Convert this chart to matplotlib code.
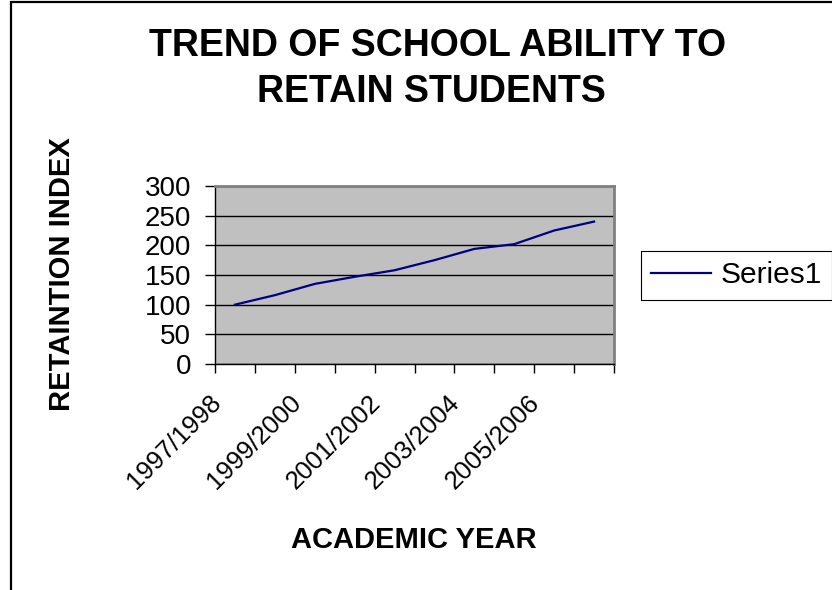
import matplotlib.pyplot as plt
from matplotlib.patches import Rectangle

plt.rcParams['font.family'] = ['Liberation Sans', 'DejaVu Sans']

# academic years and retention index
years = ['1997/1998', '1998/1999', '1999/2000', '2000/2001', '2001/2002',
         '2002/2003', '2003/2004', '2004/2005', '2005/2006', '2006/2007']
retention = [100, 116, 135, 147, 158, 175, 194, 202, 225, 240]
yticks = [0, 50, 100, 150, 200, 250, 300]

W, H = 832, 590
fig = plt.figure(figsize=(W / 100, H / 100), dpi=100)
ax = fig.add_axes([215 / W, 1 - 364 / H, (614 - 215) / W, (364 - 186) / H])

ax.set_facecolor('#c0c0c0')
x = list(range(len(years)))
line, = ax.plot(x, retention, color='#000080', lw=1.6, label='Series1')

ax.set_xlim(-0.5, len(years) - 0.5)
ax.set_ylim(0, 300)
ax.set_yticks(yticks)
ax.set_yticklabels([str(v) for v in yticks], fontsize=20)
ax.set_xticks([i - 0.5 for i in range(len(years) + 1)])
ax.set_xticklabels([])
ax.tick_params(axis='y', length=7.2, width=1, pad=10, color='black')
ax.tick_params(axis='x', length=6.5, width=1, color='black')
ax.grid(axis='y', color='black', lw=1)
ax.set_axisbelow(True)

for side in ['left', 'bottom']:
    ax.spines[side].set_color('black')
    ax.spines[side].set_linewidth(1)
for side in ['top', 'right']:
    ax.spines[side].set_color('#808080')
    ax.spines[side].set_linewidth(2)

# every other category label, rotated like Excel
for i in range(0, len(years), 2):
    ax.annotate(years[i], xy=(i, 0), xycoords=('data', 'axes fraction'),
                xytext=(-19, -19), textcoords='offset points',
                rotation=45, ha='right', va='top', rotation_mode='anchor',
                fontsize=18.5)

fig.text(438 / W, 1 - 46 / H, 'TREND OF SCHOOL ABILITY TO', ha='center',
         va='center', fontsize=27, fontweight='bold')
fig.text(431 / W, 1 - 92 / H, 'RETAIN STUDENTS', ha='center',
         va='center', fontsize=27, fontweight='bold')
fig.text(62 / W, 1 - 274 / H, 'RETAINTION INDEX', rotation=90, ha='center',
         va='center', fontsize=21, fontweight='bold')
fig.text(414 / W, 1 - 540 / H, 'ACADEMIC YEAR', ha='center', va='center',
         fontsize=21, fontweight='bold')

leg = fig.legend(handles=[line], loc='upper left',
                 bbox_to_anchor=(641 / W, 1 - 251 / H), borderaxespad=0,
                 fontsize=21.5, handlelength=2.0, handletextpad=0.3,
                 borderpad=0.35, fancybox=False, framealpha=1,
                 edgecolor='black')
leg.get_frame().set_linewidth(0.8)

fig.add_artist(Rectangle((11 / W, -0.1), 1.2, 1.1 - 2 / H,
                         transform=fig.transFigure, fill=False,
                         lw=1.6, edgecolor='black'))

fig.savefig('out.png', dpi=100)
